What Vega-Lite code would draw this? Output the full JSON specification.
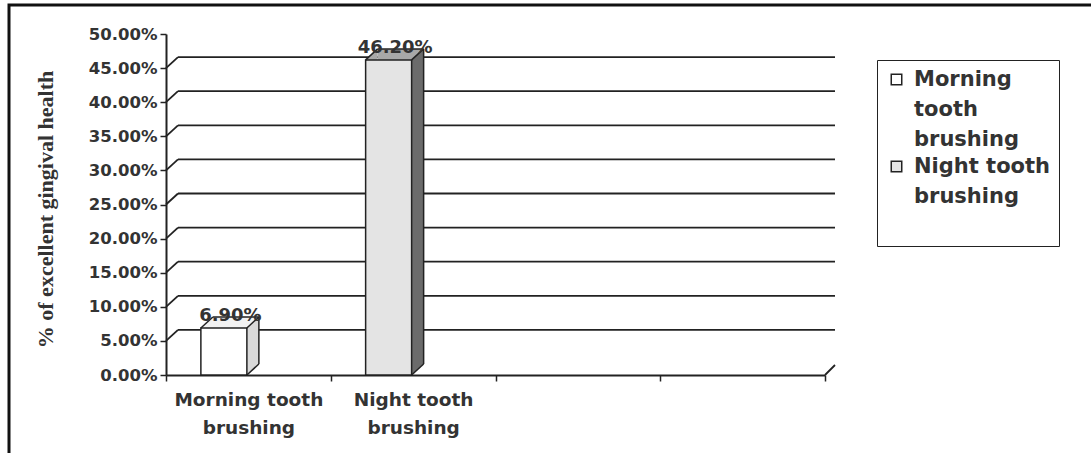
{
  "$schema": "https://vega.github.io/schema/vega-lite/v6.json",
  "width": 1090,
  "height": 455,
  "autosize": {"type": "none"},
  "padding": {"left": 9, "top": 5, "right": -8, "bottom": -7},
  "background": "white",
  "config": {
    "view": {"stroke": "#111", "strokeWidth": 3},
    "axis": {"labelColor": "#333", "domainColor": "#222", "tickColor": "#222"}
  },
  "datasets": {
    "bars": [
      {"category": "Morning tooth brushing", "value": 0.069},
      {"category": "Night tooth brushing", "value": 0.462}
    ],
    "grid": [
      {"v": 0.05}, {"v": 0.1}, {"v": 0.15}, {"v": 0.2}, {"v": 0.25},
      {"v": 0.3}, {"v": 0.35}, {"v": 0.4}, {"v": 0.45}
    ]
  },
  "layer": [
    {
      "data": {"name": "bars"},
      "mark": {"type": "bar", "width": 46, "xOffset": -24.5, "opacity": 0},
      "encoding": {
        "x": {
          "field": "category",
          "type": "nominal",
          "scale": {"domain": ["Morning tooth brushing", "Night tooth brushing", "_3", "_4"], "range": [157, 816], "paddingInner": 0, "paddingOuter": 0},
          "axis": {
            "orient": "bottom",
            "offset": -85,
            "title": null,
            "tickBand": "extent",
            "tickSize": 6,
            "tickWidth": 1.5,
            "domainWidth": 2,
            "labelAngle": 0,
            "labelExpr": "indexof(datum.label, ' brushing') > 0 ? [replace(datum.label, ' brushing', ''), 'brushing'] : ''",
            "labelFont": "DejaVu Sans",
            "labelFontWeight": "bold",
            "labelFontSize": 18.5,
            "labelColor": "#333",
            "labelPadding": 9,
            "labelLineHeight": 28,
            "grid": false
          }
        },
        "y": {
          "field": "value",
          "type": "quantitative",
          "scale": {"domain": [0, 0.5], "range": [370, 29], "nice": false},
          "axis": {
            "orient": "left",
            "offset": -157,
            "values": [0, 0.05, 0.1, 0.15, 0.2, 0.25, 0.3, 0.35, 0.4, 0.45, 0.5],
            "format": ".2%",
            "labelFont": "DejaVu Sans",
            "labelFontWeight": "bold",
            "labelFontSize": 16.5,
            "labelColor": "#333",
            "labelPadding": 3,
            "tickSize": 6,
            "tickWidth": 1.5,
            "domainWidth": 2,
            "grid": false,
            "title": "% of excellent gingival health",
            "titleFont": "Liberation Serif",
            "titleFontSize": 22,
            "titleFontWeight": "bold",
            "titleColor": "#333",
            "titleX": -121,
            "titleY": 204,
            "titleAngle": 270,
            "titleAlign": "center",
            "titleBaseline": "middle"
          }
        }
      }
    },
    {
      "data": {"name": "grid"},
      "mark": {"type": "rule", "color": "#222", "strokeWidth": 1.8, "xOffset": 12, "x2Offset": 10, "yOffset": -11, "y2Offset": -11},
      "encoding": {
        "x": {"datum": "Morning tooth brushing", "type": "nominal", "bandPosition": 0},
        "x2": {"datum": "_4", "bandPosition": 1},
        "y": {"field": "v", "type": "quantitative"},
        "y2": {"field": "v"}
      }
    },
    {
      "data": {"name": "grid"},
      "mark": {"type": "rule", "color": "#222", "strokeWidth": 1.8, "x2Offset": 12, "y2Offset": -11},
      "encoding": {
        "x": {"datum": "Morning tooth brushing", "type": "nominal", "bandPosition": 0},
        "x2": {"datum": "Morning tooth brushing", "bandPosition": 0},
        "y": {"field": "v", "type": "quantitative"},
        "y2": {"field": "v"}
      }
    },
    {
      "data": {"name": "bars"},
      "transform": [{"filter": {"field": "category", "equal": "Morning tooth brushing"}}],
      "mark": {"type": "rule", "color": "#222", "strokeWidth": 1.8, "x2Offset": 10, "y2Offset": -10},
      "encoding": {
        "x": {"datum": "_4", "type": "nominal", "bandPosition": 1},
        "x2": {"datum": "_4", "bandPosition": 1},
        "y": {"datum": 0, "type": "quantitative"},
        "y2": {"datum": 0}
      }
    },
    {
      "data": {"name": "bars"},
      "mark": {"type": "bar", "width": 46, "xOffset": -12.5, "yOffset": -11},
      "encoding": {
        "x": {"field": "category", "type": "nominal"},
        "y": {"field": "value", "type": "quantitative"},
        "y2": {"field": "value"},
        "fill": {"condition": {"test": "datum.category === 'Night tooth brushing'", "value": "#a8a8a8"}, "value": "#f2f2f2"}
      }
    },
    {
      "data": {"name": "bars"},
      "mark": {"type": "point", "shape": "M-1,0.9167L1,0.9167L1,-0.9167Z", "size": 144, "filled": true, "opacity": 1, "strokeWidth": 0, "xOffset": -41.5, "yOffset": -5.5},
      "encoding": {
        "x": {"field": "category", "type": "nominal"},
        "y": {"field": "value", "type": "quantitative"},
        "fill": {"condition": {"test": "datum.category === 'Night tooth brushing'", "value": "#a8a8a8"}, "value": "#f2f2f2"}
      }
    },
    {
      "data": {"name": "bars"},
      "mark": {"type": "bar", "width": 12, "xOffset": 4.5, "y2Offset": -11},
      "encoding": {
        "x": {"field": "category", "type": "nominal"},
        "y": {"field": "value", "type": "quantitative"},
        "y2": {"datum": 0},
        "fill": {"condition": {"test": "datum.category === 'Night tooth brushing'", "value": "#6b6b6b"}, "value": "#d9d9d9"}
      }
    },
    {
      "data": {"name": "bars"},
      "mark": {"type": "point", "shape": "M-1,0.9167L1,-0.9167L1,0.9167Z", "size": 144, "filled": true, "opacity": 1, "strokeWidth": 0, "xOffset": 4.5, "yOffset": -5.5},
      "encoding": {
        "x": {"field": "category", "type": "nominal"},
        "y": {"field": "value", "type": "quantitative"},
        "fill": {"condition": {"test": "datum.category === 'Night tooth brushing'", "value": "#6b6b6b"}, "value": "#d9d9d9"}
      }
    },
    {
      "data": {"name": "bars"},
      "mark": {"type": "point", "shape": "M-1,-0.9167L1,-0.9167L-1,0.9167Z", "size": 144, "filled": true, "opacity": 1, "strokeWidth": 0, "xOffset": 4.5, "yOffset": -5.5},
      "encoding": {
        "x": {"field": "category", "type": "nominal"},
        "y": {"datum": 0, "type": "quantitative"},
        "fill": {"condition": {"test": "datum.category === 'Night tooth brushing'", "value": "#6b6b6b"}, "value": "#d9d9d9"}
      }
    },
    {
      "data": {"name": "bars"},
      "mark": {"type": "bar", "width": 46, "xOffset": -24.5, "stroke": "#222", "strokeWidth": 1.5},
      "encoding": {
        "x": {"field": "category", "type": "nominal"},
        "y": {"field": "value", "type": "quantitative"},
        "fill": {
          "field": "category",
          "type": "nominal",
          "scale": {"domain": ["Morning tooth brushing", "Night tooth brushing"], "range": ["#ffffff", "#e4e4e4"]},
          "legend": {
            "orient": "none",
            "legendX": 868,
            "legendY": 55,
            "title": null,
            "symbolType": "square",
            "symbolSize": 110,
            "symbolStrokeColor": "#222",
            "symbolStrokeWidth": 1.5,
            "labelFont": "DejaVu Sans",
            "labelFontWeight": "bold",
            "labelFontSize": 21,
            "labelColor": "#333",
            "labelOffset": 7,
            "labelLimit": 300,
            "labelExpr": "datum.label == 'Morning tooth brushing' ? ['Morning', 'tooth', 'brushing'] : ['Night tooth', 'brushing', '']",
            "strokeColor": "#222",
            "fillColor": "#ffffff",
            "padding": 9,
            "rowPadding": 5,
            "encode": {"labels": {"update": {"lineHeight": {"value": 30}}}}
          }
        }
      }
    },
    {
      "data": {"name": "bars"},
      "mark": {"type": "rule", "color": "#222", "strokeWidth": 1.5, "xOffset": -47.5, "x2Offset": -35.5, "y2Offset": -11},
      "encoding": {
        "x": {"field": "category", "type": "nominal"},
        "x2": {"field": "category"},
        "y": {"field": "value", "type": "quantitative"},
        "y2": {"field": "value"}
      }
    },
    {
      "data": {"name": "bars"},
      "mark": {"type": "rule", "color": "#222", "strokeWidth": 1.5, "xOffset": -35.5, "x2Offset": 10.5, "yOffset": -11, "y2Offset": -11},
      "encoding": {
        "x": {"field": "category", "type": "nominal"},
        "x2": {"field": "category"},
        "y": {"field": "value", "type": "quantitative"},
        "y2": {"field": "value"}
      }
    },
    {
      "data": {"name": "bars"},
      "mark": {"type": "rule", "color": "#222", "strokeWidth": 1.5, "xOffset": -1.5, "x2Offset": 10.5, "y2Offset": -11},
      "encoding": {
        "x": {"field": "category", "type": "nominal"},
        "x2": {"field": "category"},
        "y": {"field": "value", "type": "quantitative"},
        "y2": {"field": "value"}
      }
    },
    {
      "data": {"name": "bars"},
      "mark": {"type": "rule", "color": "#222", "strokeWidth": 1.5, "xOffset": 10.5, "yOffset": -11, "y2Offset": -11},
      "encoding": {
        "x": {"field": "category", "type": "nominal"},
        "y": {"field": "value", "type": "quantitative"},
        "y2": {"datum": 0}
      }
    },
    {
      "data": {"name": "bars"},
      "mark": {"type": "rule", "color": "#222", "strokeWidth": 1.5, "xOffset": -1.5, "x2Offset": 10.5, "y2Offset": -11},
      "encoding": {
        "x": {"field": "category", "type": "nominal"},
        "x2": {"field": "category"},
        "y": {"datum": 0, "type": "quantitative"},
        "y2": {"datum": 0}
      }
    },
    {
      "data": {"name": "bars"},
      "mark": {"type": "text", "xOffset": -18, "yOffset": -12, "baseline": "middle", "align": "center", "font": "DejaVu Sans", "fontWeight": "bold", "fontSize": 18, "color": "#333"},
      "encoding": {
        "x": {"field": "category", "type": "nominal"},
        "y": {"field": "value", "type": "quantitative"},
        "text": {"field": "value", "type": "quantitative", "format": ".2%"}
      }
    }
  ]
}
